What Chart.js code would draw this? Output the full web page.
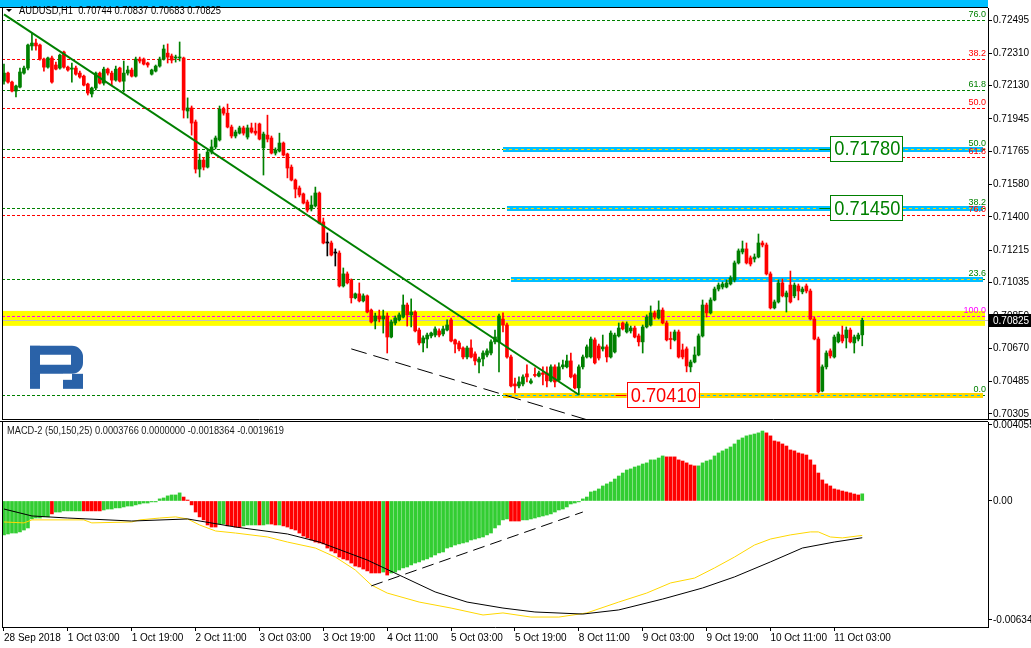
<!DOCTYPE html>
<html>
<head>
<meta charset="utf-8">
<title>AUDUSD H1</title>
<script src="https://cdn.jsdelivr.net/npm/chart.js@4.4.1/dist/chart.umd.min.js"></script>
<style>
  html, body { margin: 0; padding: 0; background: #fff; }
  #wrap { position: relative; width: 1031px; height: 648px; overflow: hidden; background: #fff; }
  #priceBox { position: absolute; left: 0; top: 0; width: 1031px; height: 421px; }
  #macdBox { position: absolute; left: 0; top: 416px; width: 1031px; height: 232px; }
</style>
</head>
<body>
<div id="wrap">
  <div id="priceBox"><canvas id="price"></canvas></div>
  <div id="macdBox"><canvas id="macd"></canvas></div>
</div>
<script>
// ---------- texts ----------
const symbolTitle = 'AUDUSD,H1  0.70744 0.70837 0.70683 0.70825';
const macdTitle = 'MACD-2 (50,150,25) 0.0003766 0.0000000 -0.0018364 -0.0019619';

// ---------- time axis ----------
const timeLabels = ['28 Sep 2018', '1 Oct 03:00', '1 Oct 19:00', '2 Oct 11:00', '3 Oct 03:00', '3 Oct 19:00',
  '4 Oct 11:00', '5 Oct 03:00', '5 Oct 19:00', '8 Oct 11:00', '9 Oct 03:00', '9 Oct 19:00', '10 Oct 11:00', '11 Oct 03:00'];
const timeTickBars = [0, 16, 32, 48, 64, 80, 96, 112, 128, 144, 160, 176, 192, 208];
const barSlots = [-0.5, 246.5]; // 216 bars + empty shift on the right

// ---------- price axis ----------
const priceTicks = [0.72495, 0.72310, 0.72130, 0.71945, 0.71765, 0.71580, 0.71400, 0.71215,
  0.71035, 0.70850, 0.70670, 0.70485, 0.70305];
const priceRange = [0.70276, 0.72562];

// open, high, low, close
const ohlc = [
  [0.72155,0.72250,0.72139,0.72200],[0.72200,0.72206,0.72144,0.72150],[0.72150,0.72155,0.72095,0.72100],[0.72100,0.72133,0.72067,0.72128],
  [0.72122,0.72228,0.72117,0.72206],[0.72200,0.72239,0.72194,0.72228],[0.72228,0.72362,0.72217,0.72356],[0.72351,0.72422,0.72328,0.72367],
  [0.72367,0.72389,0.72328,0.72351],[0.72356,0.72362,0.72272,0.72278],[0.72278,0.72284,0.72211,0.72233],[0.72233,0.72289,0.72228,0.72284],
  [0.72284,0.72295,0.72144,0.72150],[0.72245,0.72261,0.72217,0.72222],[0.72228,0.72306,0.72222,0.72300],[0.72317,0.72322,0.72228,0.72233],
  [0.72233,0.72239,0.72211,0.72217],[0.72222,0.72255,0.72150,0.72228],[0.72228,0.72239,0.72189,0.72194],[0.72200,0.72211,0.72172,0.72178],
  [0.72183,0.72189,0.72128,0.72133],[0.72139,0.72144,0.72078,0.72089],[0.72084,0.72122,0.72067,0.72117],[0.72117,0.72206,0.72106,0.72200],
  [0.72200,0.72206,0.72139,0.72144],[0.72144,0.72233,0.72133,0.72222],[0.72222,0.72228,0.72189,0.72200],[0.72200,0.72211,0.72133,0.72161],
  [0.72161,0.72239,0.72155,0.72222],[0.72228,0.72233,0.72150,0.72155],[0.72155,0.72267,0.72095,0.72200],[0.72200,0.72239,0.72189,0.72217],
  [0.72217,0.72228,0.72178,0.72183],[0.72183,0.72289,0.72178,0.72278],[0.72278,0.72289,0.72256,0.72267],[0.72278,0.72284,0.72245,0.72250],
  [0.72256,0.72261,0.72233,0.72245],[0.72194,0.72222,0.72189,0.72217],[0.72211,0.72245,0.72206,0.72239],[0.72239,0.72289,0.72233,0.72278],
  [0.72278,0.72356,0.72272,0.72334],[0.72311,0.72362,0.72256,0.72289],[0.72295,0.72306,0.72256,0.72272],[0.72284,0.72300,0.72261,0.72287],
  [0.72284,0.72373,0.72267,0.72286],[0.72284,0.72289,0.71950,0.71994],[0.71989,0.72062,0.71950,0.72006],[0.72006,0.72017,0.71855,0.71922],
  [0.71928,0.71939,0.71644,0.71666],[0.71666,0.71750,0.71622,0.71716],[0.71716,0.71728,0.71661,0.71677],[0.71677,0.71772,0.71672,0.71761],
  [0.71761,0.71828,0.71750,0.71789],[0.71789,0.71850,0.71778,0.71839],[0.71828,0.72017,0.71822,0.72000],[0.72000,0.72011,0.71966,0.71977],
  [0.71977,0.72028,0.71895,0.71900],[0.71900,0.71911,0.71839,0.71850],[0.71850,0.71883,0.71839,0.71872],[0.71866,0.71905,0.71861,0.71895],
  [0.71895,0.71905,0.71855,0.71866],[0.71844,0.71911,0.71833,0.71895],[0.71895,0.71922,0.71866,0.71872],[0.71877,0.71922,0.71855,0.71866],
  [0.71917,0.71922,0.71828,0.71833],[0.71784,0.71872,0.71633,0.71861],[0.71855,0.71966,0.71817,0.71833],[0.71839,0.71850,0.71750,0.71755],
  [0.71755,0.71784,0.71744,0.71772],[0.71766,0.71866,0.71761,0.71811],[0.71811,0.71817,0.71739,0.71744],[0.71750,0.71755,0.71617,0.71672],
  [0.71677,0.71689,0.71600,0.71605],[0.71605,0.71611,0.71506,0.71555],[0.71561,0.71572,0.71511,0.71522],[0.71528,0.71533,0.71472,0.71477],
  [0.71483,0.71494,0.71427,0.71438],[0.71444,0.71517,0.71433,0.71466],[0.71461,0.71566,0.71455,0.71533],[0.71533,0.71539,0.71361,0.71366],
  [0.71372,0.71394,0.71250,0.71255],[0.71255,0.71311,0.71183,0.71255],[0.71255,0.71266,0.71183,0.71188],[0.71199,0.71222,0.71127,0.71199],
  [0.71199,0.71211,0.71010,0.71016],[0.71016,0.71116,0.71010,0.71083],[0.71083,0.71094,0.71027,0.71033],[0.71049,0.71055,0.70921,0.70950],
  [0.70950,0.70977,0.70944,0.70972],[0.70972,0.71033,0.70927,0.70933],[0.70933,0.70972,0.70927,0.70961],[0.70961,0.70966,0.70866,0.70871],
  [0.70882,0.70888,0.70810,0.70816],[0.70821,0.70865,0.70777,0.70849],[0.70849,0.70882,0.70816,0.70832],[0.70832,0.70882,0.70754,0.70849],
  [0.70849,0.70866,0.70643,0.70732],[0.70732,0.70827,0.70727,0.70816],[0.70810,0.70849,0.70799,0.70838],[0.70827,0.70866,0.70821,0.70855],
  [0.70843,0.70966,0.70838,0.70910],[0.70910,0.70921,0.70793,0.70855],[0.70855,0.70944,0.70788,0.70871],[0.70871,0.70877,0.70760,0.70766],
  [0.70771,0.70782,0.70688,0.70699],[0.70699,0.70738,0.70649,0.70727],[0.70721,0.70754,0.70671,0.70743],[0.70738,0.70760,0.70727,0.70754],
  [0.70743,0.70788,0.70732,0.70777],[0.70766,0.70777,0.70732,0.70743],[0.70749,0.70793,0.70738,0.70777],[0.70771,0.70827,0.70766,0.70799],
  [0.70827,0.70838,0.70705,0.70710],[0.70716,0.70721,0.70643,0.70693],[0.70699,0.70710,0.70654,0.70666],[0.70671,0.70677,0.70610,0.70621],
  [0.70621,0.70682,0.70610,0.70671],[0.70671,0.70716,0.70616,0.70621],[0.70638,0.70649,0.70577,0.70599],[0.70593,0.70621,0.70532,0.70610],
  [0.70610,0.70655,0.70571,0.70643],[0.70632,0.70666,0.70621,0.70655],[0.70643,0.70716,0.70632,0.70705],[0.70705,0.70771,0.70693,0.70732],
  [0.70705,0.70860,0.70538,0.70849],[0.70832,0.70866,0.70760,0.70799],[0.70799,0.70810,0.70615,0.70621],[0.70621,0.70632,0.70454,0.70460],
  [0.70471,0.70504,0.70421,0.70460],[0.70460,0.70510,0.70449,0.70482],[0.70471,0.70521,0.70460,0.70510],[0.70527,0.70577,0.70482,0.70510],
  [0.70477,0.70499,0.70471,0.70488],[0.70524,0.70560,0.70510,0.70518],[0.70515,0.70543,0.70510,0.70532],[0.70532,0.70566,0.70465,0.70524],
  [0.70532,0.70566,0.70454,0.70488],[0.70488,0.70577,0.70482,0.70566],[0.70566,0.70577,0.70454,0.70482],[0.70493,0.70588,0.70488,0.70566],
  [0.70566,0.70604,0.70554,0.70577],[0.70566,0.70632,0.70560,0.70599],[0.70599,0.70643,0.70504,0.70510],[0.70521,0.70527,0.70443,0.70449],
  [0.70449,0.70577,0.70410,0.70566],[0.70566,0.70632,0.70554,0.70621],[0.70621,0.70688,0.70615,0.70677],[0.70621,0.70732,0.70615,0.70721],
  [0.70716,0.70727,0.70582,0.70588],[0.70682,0.70693,0.70604,0.70615],[0.70666,0.70743,0.70654,0.70677],[0.70677,0.70688,0.70593,0.70621],
  [0.70621,0.70766,0.70615,0.70754],[0.70649,0.70754,0.70643,0.70743],[0.70738,0.70810,0.70732,0.70782],[0.70810,0.70816,0.70771,0.70777],
  [0.70760,0.70816,0.70754,0.70805],[0.70766,0.70793,0.70754,0.70782],[0.70782,0.70793,0.70727,0.70732],[0.70738,0.70749,0.70682,0.70705],
  [0.70705,0.70799,0.70643,0.70788],[0.70788,0.70855,0.70782,0.70843],[0.70799,0.70905,0.70793,0.70866],[0.70866,0.70877,0.70832,0.70843],
  [0.70838,0.70933,0.70832,0.70882],[0.70882,0.70894,0.70805,0.70810],[0.70810,0.70821,0.70710,0.70716],[0.70724,0.70760,0.70666,0.70718],
  [0.70716,0.70771,0.70710,0.70760],[0.70760,0.70771,0.70615,0.70621],[0.70660,0.70693,0.70610,0.70621],[0.70666,0.70677,0.70538,0.70571],
  [0.70566,0.70604,0.70538,0.70593],[0.70593,0.70677,0.70588,0.70632],[0.70632,0.70749,0.70627,0.70738],[0.70738,0.70938,0.70732,0.70910],
  [0.70910,0.70921,0.70843,0.70866],[0.70866,0.70950,0.70860,0.70938],[0.70938,0.71010,0.70933,0.70999],[0.70999,0.71033,0.70988,0.71021],
  [0.71010,0.71038,0.70999,0.71027],[0.71010,0.71049,0.71005,0.71033],[0.71027,0.71072,0.71021,0.71061],[0.71049,0.71155,0.71038,0.71144],
  [0.71144,0.71222,0.71138,0.71211],[0.71205,0.71266,0.71194,0.71222],[0.71222,0.71255,0.71138,0.71144],[0.71172,0.71183,0.71127,0.71138],
  [0.71166,0.71194,0.71149,0.71177],[0.71177,0.71305,0.71172,0.71255],[0.71255,0.71266,0.71233,0.71244],[0.71244,0.71255,0.71077,0.71083],
  [0.71083,0.71094,0.70888,0.70894],[0.70894,0.70938,0.70888,0.70927],[0.70927,0.71049,0.70921,0.71033],[0.71033,0.71055,0.70955,0.70961],
  [0.70955,0.70988,0.70871,0.70977],[0.71021,0.71099,0.70921,0.70927],[0.70961,0.71033,0.70950,0.71021],[0.71016,0.71027,0.70938,0.70988],
  [0.70983,0.71010,0.70972,0.70999],[0.71016,0.71027,0.70977,0.70988],[0.70988,0.70999,0.70827,0.70832],[0.70832,0.70843,0.70716,0.70721],
  [0.70721,0.70732,0.70421,0.70427],[0.70432,0.70577,0.70427,0.70566],[0.70566,0.70655,0.70554,0.70643],[0.70655,0.70666,0.70615,0.70627],
  [0.70621,0.70743,0.70615,0.70732],[0.70705,0.70760,0.70699,0.70749],[0.70743,0.70793,0.70699,0.70710],[0.70727,0.70788,0.70671,0.70771],
  [0.70771,0.70782,0.70699,0.70705],[0.70699,0.70743,0.70643,0.70732],[0.70721,0.70754,0.70710,0.70743],[0.70744,0.70837,0.70683,0.70825]
];

// fibonacci grids
const fibGreenLevels = [0.72495, 0.72106, 0.71780, 0.71450, 0.71055, 0.70410];
const fibGreenNames = ['76.0', '61.8', '50.0', '38.2', '23.6', '0.0'];
const fibRedLevels = [0.72278, 0.72006, 0.71733, 0.71410, 0.70850];
const fibRedNames = ['38.2', '50.0', '61.8', '76.0', '100.0'];

// resistance zone, target lines, support
const zoneBand = [0.70794, 0.70877];
const targetLevels = [0.71780, 0.71450, 0.71055];
const targetFromBar = [125, 126, 127];
const supportLevel = 0.70410;
const supportFromBar = 125;

// trend lines [bar, price]
const trendDown = [[0, 0.72527], [144, 0.70411]];
const channelLow = [[87, 0.70666], [146, 0.70272]];

// ---------- MACD ----------
const macdTicks = [0.004055, 0, -0.006345];
const macdRange = [-0.00672, 0.00421];
const macdHist = [
  -0.00181,-0.00176,-0.00171,-0.00171,-0.00165,-0.00155,-0.00144,-0.00096,-0.00091,-0.00091,
  -0.00085,-0.00085,-0.00069,-0.00059,-0.00059,-0.00053,-0.00053,-0.00053,-0.00053,-0.00053,
  -0.00053,-0.00053,-0.00053,-0.00053,-0.00053,-0.00048,-0.00043,-0.00043,-0.00037,-0.00037,
  -0.00032,-0.00027,-0.00027,-0.00021,-0.00016,-0.00011,-0.00011,-0.00005,-0.00005,0.00011,
  0.00016,0.00027,0.00032,0.00032,0.00043,0.00021,0.00005,-0.00021,-0.00059,-0.00085,
  -0.00101,-0.00128,-0.00139,-0.00139,-0.00123,-0.00123,-0.00133,-0.00133,-0.00139,-0.00139,
  -0.00133,-0.00128,-0.00128,-0.00128,-0.00128,-0.00128,-0.00123,-0.00123,-0.00128,-0.00128,
  -0.00133,-0.00139,-0.00149,-0.00155,-0.00171,-0.00187,-0.00197,-0.00208,-0.00219,-0.00224,
  -0.00229,-0.00251,-0.00267,-0.00277,-0.00299,-0.00309,-0.00315,-0.00331,-0.00347,-0.00352,
  -0.00363,-0.00373,-0.00384,-0.00384,-0.00384,-0.00379,-0.00395,-0.00384,-0.00379,-0.00368,
  -0.00357,-0.00352,-0.00341,-0.00331,-0.00325,-0.00315,-0.00309,-0.00299,-0.00288,-0.00277,
  -0.00272,-0.00251,-0.00245,-0.00235,-0.00229,-0.00224,-0.00219,-0.00208,-0.00203,-0.00197,
  -0.00192,-0.00181,-0.00171,-0.00144,-0.00128,-0.00101,-0.00096,-0.00107,-0.00107,-0.00107,
  -0.00101,-0.00101,-0.00096,-0.00091,-0.00085,-0.00080,-0.00075,-0.00069,-0.00059,-0.00048,
  -0.00043,-0.00032,-0.00016,-0.00011,-0.00005,0.00011,0.00021,0.00048,0.00053,0.00064,
  0.00080,0.00091,0.00101,0.00117,0.00133,0.00149,0.00165,0.00171,0.00181,0.00187,
  0.00197,0.00203,0.00219,0.00219,0.00229,0.00240,0.00235,0.00235,0.00235,0.00219,
  0.00213,0.00203,0.00192,0.00187,0.00187,0.00203,0.00213,0.00219,0.00240,0.00256,
  0.00267,0.00277,0.00288,0.00304,0.00325,0.00336,0.00347,0.00352,0.00357,0.00363,
  0.00373,0.00363,0.00347,0.00320,0.00315,0.00304,0.00293,0.00272,0.00267,0.00256,
  0.00251,0.00245,0.00219,0.00192,0.00149,0.00112,0.00091,0.00080,0.00064,0.00059,
  0.00053,0.00048,0.00043,0.00037,0.00032,0.00038
];
// bar ranges [from, to] where the histogram is drawn as falling
const macdFallRuns = [[12, 12], [20, 24], [45, 53], [56, 59], [64, 64], [67, 68], [70, 94], [96, 96],
  [127, 129], [166, 173], [191, 214]];
const macdMain = [[0,-0.00043],[7,-0.00080],[16,-0.00091],[32,-0.00107],[46,-0.00096],[58,-0.00139],[71,-0.00176],
  [79,-0.00219],[91,-0.00315],[100,-0.00405],[108,-0.00485],[116,-0.00539],[125,-0.00571],[133,-0.00592],
  [145,-0.00603],[154,-0.00581],[165,-0.00523],[175,-0.00464],[183,-0.00405],[192,-0.00325],[200,-0.00251],
  [208,-0.00219],[215,-0.0019619]];
const macdSignal = [[0,-0.00112],[5,-0.00117],[7,-0.00101],[20,-0.00101],[22,-0.00117],[32,-0.00112],[34,-0.00101],
  [39,-0.00091],[43,-0.00085],[46,-0.00096],[49,-0.00128],[53,-0.00160],[58,-0.00171],[66,-0.00192],[71,-0.00219],
  [78,-0.00251],[83,-0.00299],[88,-0.00368],[92,-0.00448],[96,-0.00491],[104,-0.00539],[112,-0.00571],[120,-0.00608],
  [125,-0.00597],[132,-0.00619],[139,-0.00619],[146,-0.00597],[154,-0.00539],[161,-0.00491],[167,-0.00437],
  [173,-0.00411],[178,-0.00357],[183,-0.00299],[188,-0.00235],[192,-0.00203],[197,-0.00181],[202,-0.00165],
  [204,-0.00165],[207,-0.00192],[210,-0.00197],[215,-0.0018364]];
const macdTrend = [[92, -0.00453], [145, -0.00059]];

// ---------- helpers ----------
const FONT = '"Liberation Sans", Arial, Helvetica, sans-serif';
const GREEN = '#008000', RED = '#ff0000', CYAN = '#00bfff', GOLD = '#ffd700';
const crisp = v => Math.round(v) + 0.5;
const pts = arr => arr.map(p => ({ x: p[0], y: p[1] }));

function hline(ctx, x0, x1, yy, color, width, dash) {
  ctx.beginPath();
  ctx.setLineDash(dash || []);
  ctx.strokeStyle = color;
  ctx.lineWidth = width;
  ctx.moveTo(x0, yy);
  ctx.lineTo(x1, yy);
  ctx.stroke();
  ctx.setLineDash([]);
}

function drawLogo(ctx, x0, y0) {
  ctx.save();
  ctx.fillStyle = '#2a62a8';
  // stem
  ctx.fillRect(x0, y0, 10, 43);
  // bowl
  ctx.beginPath();
  ctx.moveTo(x0, y0);
  ctx.lineTo(x0 + 42, y0);
  ctx.arcTo(x0 + 53, y0, x0 + 53, y0 + 11, 11);
  ctx.lineTo(x0 + 53, y0 + 17);
  ctx.arcTo(x0 + 53, y0 + 28, x0 + 42, y0 + 28, 11);
  ctx.lineTo(x0, y0 + 28);
  ctx.closePath();
  ctx.moveTo(x0 + 10, y0 + 9);
  ctx.lineTo(x0 + 10, y0 + 19);
  ctx.lineTo(x0 + 41, y0 + 19);
  ctx.lineTo(x0 + 41, y0 + 9);
  ctx.closePath();
  ctx.fill('evenodd');
  // leg
  ctx.fillRect(x0 + 33, y0 + 28, 20, 15);
  ctx.fillStyle = '#fff';
  ctx.fillRect(x0 + 33, y0 + 28, 9, 6);
  ctx.restore();
}

function labelBox(ctx, x, chartX, py, text, color) {
  const bx = x.getPixelForValue(chartX);
  const w = 72, h = 25;
  hline(ctx, bx - 11, bx, Math.round(py) + 0.5, color, 1);
  ctx.fillStyle = '#fff';
  ctx.fillRect(bx, py - h / 2, w, h);
  ctx.strokeStyle = color;
  ctx.lineWidth = 1;
  ctx.strokeRect(Math.round(bx) + 0.5, Math.round(py - h / 2) + 0.5, w, h);
  ctx.fillStyle = color;
  ctx.font = '21px ' + FONT;
  ctx.textAlign = 'center';
  ctx.textBaseline = 'middle';
  ctx.fillText(text, bx + w / 2 + 1, py + 1, w - 6);
}

const candleColors = ohlc.map(c => c[3] > c[0] ? GREEN : (c[3] < c[0] ? RED : '#000'));

const priceDecor = {
  id: 'priceDecor',
  beforeDatasetsDraw(chart) {
    const { ctx, chartArea: a, scales: { x, y } } = chart;
    ctx.save();
    ctx.beginPath();
    ctx.rect(a.left, a.top, a.width, a.height);
    ctx.clip();
    // resistance zone
    const zt = y.getPixelForValue(zoneBand[1]);
    const zb = y.getPixelForValue(zoneBand[0]);
    ctx.fillStyle = '#ffff00';
    ctx.fillRect(a.left, zt, a.width - 3, zb - zt);
    // bid line
    hline(ctx, a.left, a.right, crisp(y.getPixelForValue(ohlc[ohlc.length - 1][3])), '#c0c0c0', 1);
    // fibo levels
    fibGreenLevels.forEach(v => hline(ctx, a.left, a.right - 3, crisp(y.getPixelForValue(v)), GREEN, 1, [3, 2]));
    fibRedLevels.forEach((v, i) => hline(ctx, a.left, a.right - 3, crisp(y.getPixelForValue(v)),
      fibRedNames[i] === '100.0' ? '#ff00ff' : RED, 1, [3, 2]));
    // targets
    targetLevels.forEach((v, i) => {
      const py = Math.round(y.getPixelForValue(v));
      const x0 = x.getPixelForValue(targetFromBar[i]);
      hline(ctx, x0, a.right - 5, py + 0.5, CYAN, 5);
      hline(ctx, x0, a.right - 5, py + 0.5, GOLD, 1, [3, 3]);
    });
    const sy = Math.round(y.getPixelForValue(supportLevel));
    const sx = x.getPixelForValue(supportFromBar);
    hline(ctx, sx, a.right - 5, sy + 0.5, GOLD, 5);
    hline(ctx, sx, a.right - 5, sy + 0.5, CYAN, 1, [3, 3]);
    ctx.restore();
  },
  afterDatasetsDraw(chart) {
    const { ctx, chartArea: a, scales: { x, y } } = chart;
    ctx.save();
    // fibo captions
    ctx.font = '9px ' + FONT;
    ctx.textAlign = 'right';
    ctx.textBaseline = 'bottom';
    fibGreenLevels.forEach((v, i) => {
      ctx.fillStyle = GREEN;
      ctx.fillText(fibGreenNames[i], a.right - 2, Math.round(y.getPixelForValue(v)) - 1);
    });
    fibRedLevels.forEach((v, i) => {
      ctx.fillStyle = fibRedNames[i] === '100.0' ? '#ff00ff' : RED;
      ctx.fillText(fibRedNames[i], a.right - 2, Math.round(y.getPixelForValue(v)) - 1);
    });
    // price tags
    labelBox(ctx, x, 207, y.getPixelForValue(targetLevels[0]), targetLevels[0].toFixed(5), GREEN);
    labelBox(ctx, x, 207, y.getPixelForValue(targetLevels[1]), targetLevels[1].toFixed(5), GREEN);
    labelBox(ctx, x, 156, y.getPixelForValue(supportLevel), supportLevel.toFixed(5), RED);
    // logo
    drawLogo(ctx, a.left + 28, y.getPixelForValue(0.70683));
    // frame
    ctx.fillStyle = CYAN;
    ctx.fillRect(0, 0, a.right, a.top - 1);
    ctx.strokeStyle = '#000';
    ctx.lineWidth = 1;
    ctx.beginPath();
    ctx.moveTo(0, a.top - 0.5); ctx.lineTo(a.right, a.top - 0.5);
    ctx.moveTo(a.left + 0.5, a.top); ctx.lineTo(a.left + 0.5, a.bottom);
    ctx.moveTo(a.left, a.bottom + 0.5); ctx.lineTo(chart.width, a.bottom + 0.5);
    ctx.stroke();
    // title
    ctx.fillStyle = '#000';
    ctx.beginPath();
    ctx.moveTo(6, 9); ctx.lineTo(12, 9); ctx.lineTo(9, 12); ctx.closePath(); ctx.fill();
    ctx.font = '10px ' + FONT;
    ctx.textAlign = 'left';
    ctx.textBaseline = 'middle';
    ctx.fillText(symbolTitle, 19, 11, 202);
    ctx.restore();
  },
  afterDraw(chart) {
    const { ctx, chartArea: a, scales: { y } } = chart;
    const last = ohlc[ohlc.length - 1][3];
    const py = y.getPixelForValue(last);
    ctx.save();
    ctx.fillStyle = '#000';
    ctx.fillRect(a.right + 1, Math.round(py) - 6, chart.width - a.right - 1, 13);
    ctx.fillStyle = '#fff';
    ctx.font = '10px ' + FONT;
    ctx.textAlign = 'left';
    ctx.textBaseline = 'middle';
    ctx.fillText(last.toFixed(5), a.right + 5, Math.round(py) + 1);
    ctx.restore();
  }
};

new Chart(document.getElementById('price'), {
  type: 'bar',
  data: {
    datasets: [
      { type: 'line', data: pts(trendDown), borderColor: GREEN, borderWidth: 2, pointRadius: 0, order: 0 },
      { type: 'line', data: pts(channelLow), borderColor: '#000', borderWidth: 1, borderDash: [16, 7], pointRadius: 0, order: 0 },
      { data: ohlc.map((c, i) => ({ x: i, y: [c[0], c[3]] })), backgroundColor: candleColors,
        barThickness: 3, minBarLength: 1, grouped: false, order: 1 },
      { data: ohlc.map((c, i) => ({ x: i, y: [c[2], c[1]] })), backgroundColor: candleColors,
        barThickness: 1, grouped: false, order: 2 }
    ]
  },
  options: {
    responsive: true,
    maintainAspectRatio: false,
    animation: false,
    devicePixelRatio: 1,
    events: [],
    layout: { padding: { left: 2, top: 8, right: 0, bottom: 2 } },
    plugins: { legend: { display: false }, tooltip: { enabled: false } },
    scales: {
      x: { type: 'linear', min: barSlots[0], max: barSlots[1], offset: false, display: false },
      y: {
        position: 'right',
        min: priceRange[0],
        max: priceRange[1],
        afterBuildTicks: s => { s.ticks = priceTicks.map(v => ({ value: v })); },
        afterFit: s => { s.width = 43; s.paddingTop = 0; s.paddingBottom = 0; },
        ticks: { autoSkip: false, padding: 1, color: '#000', font: { family: FONT, size: 10 },
          callback: v => v.toFixed(5) },
        grid: { drawOnChartArea: false, tickLength: 4, color: '#000' },
        border: { display: true, color: '#000' }
      }
    }
  },
  plugins: [priceDecor]
});

// ---------- MACD panel ----------
const histColors = macdHist.map((v, i) =>
  macdFallRuns.some(r => i >= r[0] && i <= r[1]) ? RED : '#32cd32');

const macdDecor = {
  id: 'macdDecor',
  afterDatasetsDraw(chart) {
    const { ctx, chartArea: a } = chart;
    ctx.save();
    ctx.strokeStyle = '#000';
    ctx.lineWidth = 1;
    ctx.beginPath();
    ctx.moveTo(0, a.top - 0.5); ctx.lineTo(a.right, a.top - 0.5);
    ctx.moveTo(a.left + 0.5, a.top); ctx.lineTo(a.left + 0.5, a.bottom);
    ctx.stroke();
    ctx.fillStyle = '#1a1a1a';
    ctx.font = '10px ' + FONT;
    ctx.textAlign = 'left';
    ctx.textBaseline = 'middle';
    ctx.fillText(macdTitle, 7, a.top + 9, 277);
    ctx.restore();
  }
};

new Chart(document.getElementById('macd'), {
  type: 'bar',
  data: {
    datasets: [
      { type: 'line', data: pts(macdTrend), borderColor: '#000', borderWidth: 1, borderDash: [12, 6], pointRadius: 0, order: 0 },
      { type: 'line', data: pts(macdMain), borderColor: '#000', borderWidth: 1, pointRadius: 0, order: 1 },
      { type: 'line', data: pts(macdSignal), borderColor: GOLD, borderWidth: 1, pointRadius: 0, order: 2 },
      { data: macdHist.map((v, i) => ({ x: i, y: v })), backgroundColor: histColors,
        barThickness: 3, grouped: false, order: 3 }
    ]
  },
  options: {
    responsive: true,
    maintainAspectRatio: false,
    animation: false,
    devicePixelRatio: 1,
    events: [],
    layout: { padding: { left: 2, top: 6, right: 0, bottom: 0 } },
    plugins: { legend: { display: false }, tooltip: { enabled: false } },
    scales: {
      x: {
        type: 'linear', min: barSlots[0], max: barSlots[1], offset: false, position: 'bottom',
        afterBuildTicks: s => { s.ticks = timeTickBars.map(v => ({ value: v })); },
        afterFit: s => { s.height = 21; s.paddingLeft = 0; s.paddingRight = 0; },
        ticks: { autoSkip: false, maxRotation: 0, minRotation: 0, align: 'start', padding: 1,
          color: '#000', font: { family: FONT, size: 10 }, callback: (v, i) => timeLabels[i] },
        grid: { drawOnChartArea: false, tickLength: 4, color: '#000', offset: false },
        border: { display: true, color: '#000' }
      },
      y: {
        position: 'right',
        min: macdRange[0],
        max: macdRange[1],
        afterBuildTicks: s => { s.ticks = macdTicks.map(v => ({ value: v })); },
        afterFit: s => { s.width = 43; s.paddingTop = 0; s.paddingBottom = 0; },
        ticks: { autoSkip: false, padding: 1, color: '#000', font: { family: FONT, size: 10 },
          callback: v => v === 0 ? '0.00' : v.toFixed(6) },
        grid: { drawOnChartArea: false, tickLength: 4, color: '#000' },
        border: { display: true, color: '#000' }
      }
    }
  },
  plugins: [macdDecor]
});
</script>
</body>
</html>
